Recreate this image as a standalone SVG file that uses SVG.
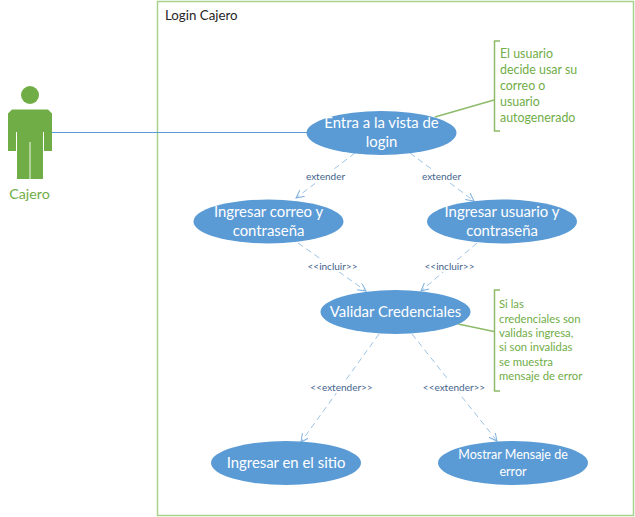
<svg xmlns="http://www.w3.org/2000/svg" width="635" height="517" viewBox="0 0 635 517">
<defs>
<style>
text{font-family:"Lato","Open Sans","Liberation Sans",sans-serif}
.uc{fill:#5b9bd5}
.ut{fill:#fff;font-size:14.900px;text-anchor:middle}
.c{fill:none;stroke:#9dc3e6;stroke-width:1;stroke-dasharray:6 4}
.l{font-size:10px;fill:#44648c;text-anchor:middle}
.n{font-size:12.400px;fill:#70ad47}
.m{font-size:11.300px;fill:#70ad47}
.b{fill:none;stroke:#8dbb6a;stroke-width:1.5}
</style>
<marker id="a" markerWidth="10" markerHeight="10" refX="8" refY="4" orient="auto" markerUnits="userSpaceOnUse"><path d="M0 0L8 4L0 8" fill="none" stroke="#7fb0dd" stroke-width="1"/></marker>
</defs>
<rect width="635" height="517" fill="#fff"/>
<g id="frame"><rect x="157.500" y="1.500" width="476" height="514" fill="none" stroke="#a9d18e" stroke-width="1.500"/><text x="165" y="20" font-size="13.300px" fill="#262626">Login Cajero</text></g>
<g id="connectors">
<path d="M52 132.500H307" fill="none" stroke="#5b9bd5" stroke-width="1"/>
<path class="c" d="M355 153L296 198" marker-end="url(#a)"/>
<path class="c" d="M410 153L474 201" marker-end="url(#a)"/>
<path class="c" d="M298 243L366 291" marker-end="url(#a)"/>
<path class="c" d="M477 243L421 291" marker-end="url(#a)"/>
<path class="c" d="M379 334L301 442" marker-end="url(#a)"/>
<path class="c" d="M412 334L497 441" marker-end="url(#a)"/>
<path d="M494 100L435 117" fill="none" stroke="#8dbb6a" stroke-width="1.500"/>
<path d="M494 331.500L458 324" fill="none" stroke="#8dbb6a" stroke-width="1.500"/>
<g>
<rect x="305" y="171" width="41" height="12" fill="#fff"/><text class="l" x="325.500" y="180">extender</text>
<rect x="421" y="171" width="41" height="12" fill="#fff"/><text class="l" x="441.500" y="180">extender</text>
<rect x="308" y="260" width="49" height="12" fill="#fff"/><text class="l" x="332.500" y="270">&lt;&lt;incluir&gt;&gt;</text>
<rect x="424" y="260" width="50" height="12" fill="#fff"/><text class="l" x="449.500" y="270">&lt;&lt;incluir&gt;&gt;</text>
<rect x="311" y="381" width="61" height="12" fill="#fff"/><text class="l" x="341.500" y="391">&lt;&lt;extender&gt;&gt;</text>
<rect x="424" y="381" width="60" height="12" fill="#fff"/><text class="l" x="454" y="391">&lt;&lt;extender&gt;&gt;</text>
</g>
</g>
<g id="actor">
<circle cx="30" cy="95" r="9" fill="#70ad47"/>
<path d="M12 109.500H48L52 113.500V151H44V132H43V179H17V132H16V151H8V113.500Z" fill="#70ad47"/>
<path d="M30 142V179" stroke="#c5e0b4" stroke-width="1.500"/>
<text x="29.500" y="199" font-size="14.300px" fill="#70ad47" text-anchor="middle">Cajero</text>
</g>
<g id="uc1"><ellipse class="uc" cx="381.500" cy="133" rx="75" ry="22"/><text class="ut" x="381.500" y="128">Entra a la vista de</text><text class="ut" x="381.500" y="147">login</text></g>
<g id="uc2"><ellipse class="uc" cx="268.500" cy="221.500" rx="75" ry="22"/><text class="ut" x="268.500" y="217">Ingresar correo y</text><text class="ut" x="268.500" y="236">contraseña</text></g>
<g id="uc3"><ellipse class="uc" cx="502" cy="221.500" rx="75" ry="22"/><text class="ut" x="502" y="217">Ingresar usuario y</text><text class="ut" x="502" y="236">contraseña</text></g>
<g id="uc4"><ellipse class="uc" cx="395.500" cy="312" rx="75" ry="22"/><text class="ut" x="395.500" y="317">Validar Credenciales</text></g>
<g id="uc5"><ellipse class="uc" cx="286" cy="463" rx="75" ry="22"/><text class="ut" x="286" y="468">Ingresar en el sitio</text></g>
<g id="uc6"><ellipse class="uc" cx="513" cy="463" rx="75" ry="22"/><text class="ut" x="513" y="459" style="font-size:12.500px">Mostrar Mensaje de</text><text class="ut" x="513" y="476" style="font-size:12.500px">error</text></g>
<g id="note1"><path class="b" d="M500 41H494.500V131H500"/>
<text class="n" x="500" y="58">El usuario</text><text class="n" x="500" y="74">decide usar su</text><text class="n" x="500" y="90">correo o</text><text class="n" x="500" y="106">usuario</text><text class="n" x="500" y="122">autogenerado</text></g>
<g id="note2"><path class="b" d="M500 290H494.500V391H500"/>
<text class="m" x="499" y="308">Si las</text><text class="m" x="499" y="323">credenciales son</text><text class="m" x="499" y="337">validas ingresa,</text><text class="m" x="499" y="351">si son invalidas</text><text class="m" x="499" y="366">se muestra</text><text class="m" x="499" y="380">mensaje de error</text></g>
</svg>
